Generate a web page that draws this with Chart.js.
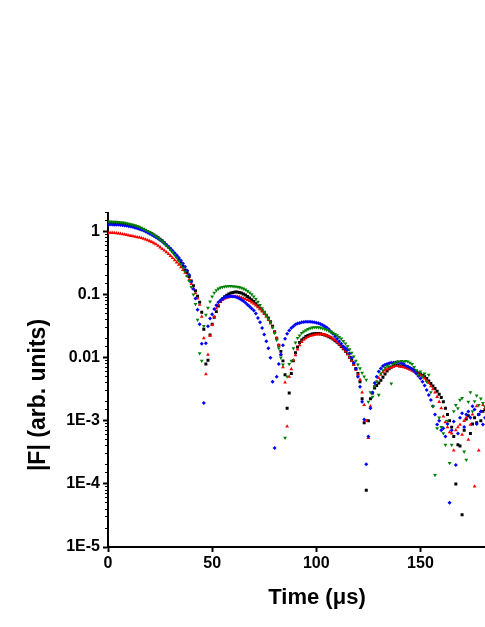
<!DOCTYPE html>
<html>
<head>
<meta charset="utf-8">
<script src="https://cdn.jsdelivr.net/npm/chart.js@4.4.1/dist/chart.umd.min.js"></script>
<style>
html,body{margin:0;padding:0;background:#fff;overflow:hidden}
#wrap{position:relative;width:485px;height:627px}
</style>
</head>
<body>
<div id="wrap"><canvas id="c"></canvas></div>
<script>
const timeUs = [
0,1,2,3,4,5,6,7,8,9,10,11,12,13,14,15,16,17,18,19,
20,21,22,23,24,25,26,27,28,29,30,31,32,33,34,35,36,37,38,39,
40,41,42,43,44,45,46,47,48,49,50,51,52,53,54,55,56,57,58,59,
60,61,62,63,64,65,66,67,68,69,70,71,72,73,74,75,76,77,78,79,
80,81,82,83,84,85,86,87,88,89,90,91,92,93,94,95,96,97,98,99,
100,101,102,103,104,105,106,107,108,109,110,111,112,113,114,115,116,117,118,119,
120,121,122,123,124,125,126,127,128,129,130,131,132,133,134,135,136,137,138,139,
140,141,142,143,144,145,146,147,148,149,150,151,152,153,154,155,156,157,158,159,
160,161,162,163,164,165,166,167,168,169,170,171,172,173,174,175,176,177,178,179,
180,181];

const black = [
1.35,1.35,1.346,1.343,1.337,1.33,1.321,1.309,1.297,1.282,
1.265,1.245,1.222,1.197,1.169,1.14,1.109,1.076,1.04,1.002,
0.964,0.925,0.883,0.841,0.798,0.755,0.711,0.664,0.61,0.569,
0.527,0.484,0.442,0.4,0.359,0.32,0.282,0.245,0.224,0.193,
0.164,0.138,0.115,0.0944,0.0759,0.0525,0.0282,0.00794,0.00912,0.0229,
0.0339,0.0437,0.0537,0.0661,0.0776,0.0861,0.0923,0.0977,0.102,0.106,
0.108,0.11,0.11,0.108,0.106,0.102,0.0989,0.0933,0.0881,0.0832,
0.0776,0.0716,0.0661,0.061,0.0562,0.0519,0.0473,0.0427,0.0372,0.0316,
0.0257,0.0204,0.0158,0.0126,0.00891,0.00537,0.00158,0.00275,0.00562,0.00891,
0.012,0.0148,0.0174,0.0191,0.0204,0.0216,0.0224,0.0232,0.0237,0.024,
0.0242,0.0241,0.0239,0.0234,0.0229,0.0223,0.0215,0.0207,0.0197,0.0186,
0.0175,0.0163,0.0151,0.0139,0.0127,0.0115,0.0102,0.00902,0.00785,0.00676,
0.00562,0.00417,0.00224,0.000933,0.0000794,0.001,0.00224,0.00275,0.00331,0.00363,
0.00398,0.00437,0.0049,0.0055,0.00617,0.00668,0.00708,0.00741,0.00759,0.00759,
0.00741,0.00733,0.00724,0.00708,0.00692,0.00676,0.00653,0.00631,0.00603,0.00575,
0.0055,0.00525,0.00501,0.00468,0.00427,0.00389,0.00355,0.00324,0.00295,0.00263,
0.00234,0.002,0.00158,0.00126,0.001,0.000794,0.000562,0.0001,0.000417,0.000398,
0.0000324,0.000708,0.00107,0.0012,0.000631,0.000891,0.00112,0.000933,0.00126,0.001,
0.00141,0.00151];

const red = [
0.955,0.955,0.953,0.948,0.942,0.933,0.923,0.91,0.898,0.883,
0.869,0.855,0.841,0.828,0.815,0.804,0.791,0.771,0.75,0.728,
0.705,0.681,0.656,0.631,0.596,0.562,0.531,0.501,0.471,0.442,
0.412,0.382,0.353,0.325,0.299,0.272,0.247,0.223,0.199,0.174,
0.148,0.124,0.105,0.0871,0.0692,0.0447,0.0204,0.0055,0.0112,0.0224,
0.0331,0.0447,0.0603,0.0692,0.0776,0.0822,0.0861,0.0891,0.0912,0.0927,
0.0933,0.0938,0.0933,0.0923,0.0902,0.0877,0.0851,0.0822,0.0791,0.0755,
0.0716,0.0676,0.0634,0.0589,0.0543,0.0495,0.0447,0.0398,0.0351,0.0302,
0.0251,0.0204,0.0158,0.0112,0.00708,0.00407,0.000813,0.00501,0.00661,0.00912,
0.011,0.0135,0.0158,0.0178,0.0193,0.0204,0.0214,0.0221,0.0226,0.023,
0.0233,0.0234,0.0234,0.0233,0.0229,0.0224,0.0218,0.021,0.02,0.019,
0.0178,0.0165,0.0152,0.014,0.0127,0.0114,0.0101,0.00891,0.00767,0.00646,
0.00537,0.00447,0.00282,0.00178,0.001,0.000537,0.0017,0.00275,0.00355,0.00417,
0.00479,0.00537,0.00589,0.00631,0.00661,0.00692,0.00708,0.00724,0.00741,0.00741,
0.00733,0.00724,0.00708,0.00692,0.00668,0.00646,0.00624,0.00603,0.00575,0.0055,
0.00525,0.00501,0.00468,0.00437,0.00398,0.00355,0.00316,0.00282,0.0024,0.002,
0.00158,0.00117,0.000955,0.000794,0.000661,0.000631,0.000339,0.000708,0.000794,0.000871,
0.000603,0.001,0.00112,0.000501,0.000871,0.00126,0.0000912,0.0017,0.000339,0.00141,
0.00178,0.00158];

const blue = [
1.288,1.288,1.285,1.282,1.279,1.274,1.268,1.259,1.247,1.233,
1.216,1.197,1.175,1.151,1.125,1.096,1.067,1.033,0.998,0.962,
0.925,0.887,0.849,0.811,0.773,0.733,0.692,0.652,0.612,0.573,
0.533,0.494,0.456,0.419,0.382,0.346,0.31,0.275,0.241,0.204,
0.162,0.123,0.0871,0.0575,0.0339,0.0166,0.00191,0.017,0.0316,0.0417,
0.049,0.0589,0.0676,0.0759,0.0813,0.0861,0.0902,0.0923,0.0933,0.094,
0.0933,0.0923,0.0902,0.0871,0.0832,0.0794,0.0741,0.0692,0.0646,0.0603,
0.0562,0.0501,0.0427,0.0363,0.0295,0.0234,0.0182,0.0141,0.01,0.00417,
0.000372,0.00501,0.00794,0.0112,0.0158,0.02,0.024,0.0269,0.0295,0.0316,
0.0335,0.0347,0.0355,0.0363,0.0367,0.037,0.0372,0.037,0.0367,0.0363,
0.0357,0.0351,0.0343,0.0331,0.0316,0.0302,0.0282,0.0257,0.024,0.0219,
0.02,0.0182,0.0166,0.0151,0.0141,0.0132,0.0117,0.01,0.00832,0.00661,
0.00501,0.00347,0.002,0.00105,0.000204,0.000562,0.00158,0.00282,0.00398,0.00501,
0.00603,0.00676,0.00741,0.00776,0.00794,0.00813,0.00832,0.00832,0.00841,0.00851,
0.00832,0.00813,0.00794,0.00741,0.00724,0.00692,0.00661,0.00617,0.00562,0.00513,
0.00468,0.00417,0.00363,0.00309,0.00257,0.00214,0.0017,0.00126,0.000871,0.001,
0.000708,0.000759,0.000562,0.000891,0.0000501,0.000708,0.000977,0.0002,0.000631,0.00112,
0.00132,0.000794,0.00126,0.00141,0.00112,0.0017,0.00151,0.000891,0.00126,0.00141,
0.000871,0.00112];

const green = [
1.429,1.429,1.426,1.422,1.416,1.406,1.396,1.384,1.368,1.349,
1.327,1.303,1.276,1.247,1.216,1.18,1.143,1.104,1.062,1.019,
0.975,0.929,0.883,0.838,0.791,0.745,0.698,0.652,0.605,0.56,
0.514,0.47,0.427,0.385,0.344,0.305,0.268,0.232,0.197,0.164,
0.132,0.1,0.0708,0.0398,0.0117,0.00891,0.0316,0.0479,0.0617,0.0776,
0.0933,0.107,0.117,0.124,0.129,0.132,0.134,0.135,0.136,0.136,
0.135,0.134,0.133,0.131,0.128,0.124,0.12,0.114,0.108,0.101,
0.0933,0.0851,0.0767,0.0684,0.0603,0.0531,0.0468,0.0417,0.0363,0.0302,
0.0245,0.0191,0.0141,0.01,0.00776,0.000537,0.00501,0.00794,0.00891,0.0141,
0.0174,0.0204,0.0224,0.0245,0.026,0.0272,0.0283,0.0292,0.0299,0.0302,
0.0303,0.0302,0.0299,0.0293,0.0285,0.0277,0.0268,0.0258,0.0248,0.0237,
0.0225,0.0213,0.02,0.0184,0.0168,0.0151,0.0135,0.0119,0.0104,0.00891,
0.00776,0.00676,0.00575,0.00501,0.00447,0.002,0.00282,0.0024,0.00355,0.00417,
0.00257,0.00562,0.00631,0.00692,0.00741,0.00724,0.00389,0.00794,0.00832,0.00861,
0.00871,0.00881,0.00871,0.00881,0.00871,0.00832,0.00794,0.00708,0.00631,0.00537,
0.00603,0.00501,0.00562,0.00417,0.00537,0.00282,0.0017,0.000138,0.000759,0.00112,
0.000794,0.000631,0.000417,0.001,0.000214,0.000417,0.00141,0.00178,0.00158,0.00214,
0.00229,0.000324,0.00024,0.002,0.00282,0.00141,0.00204,0.00251,0.00178,0.00224,
0.00191,0.00166];

const xTickValues = [0, 50, 100, 150];
const yTickValues = [1e-5, 1e-4, 1e-3, 0.01, 0.1, 1];
const yTickLabels = ['1E-5', '1E-4', '1E-3', '0.01', '0.1', '1'];
const xTitle = 'Time (\u03bcs)';
const yTitle = '|F| (arb. units)';

const FONT = "'Liberation Sans', Arial, Helvetica, sans-serif";
const toPoints = arr => arr.map((v, i) => ({x: timeUs[i], y: v}));

const axisTitles = {
  id: 'axisTitles',
  afterDraw(chart) {
    const ctx = chart.ctx;
    ctx.save();
    ctx.fillStyle = '#000';
    ctx.textAlign = 'center';
    ctx.textBaseline = 'middle';
    ctx.font = 'bold 22px ' + FONT;
    ctx.fillText(xTitle, 317, 597.5);
    ctx.translate(38.5, 395);
    ctx.rotate(-Math.PI / 2);
    ctx.font = 'bold 23px ' + FONT;
    ctx.fillText(yTitle, 0, 0);
    ctx.restore();
  }
};

const tickFont = {family: FONT, size: 16, weight: 'bold'};

new Chart(document.getElementById('c'), {
  type: 'scatter',
  data: {
    datasets: [
      {label: 'black', data: toPoints(black), pointStyle: 'rect', pointRadius: 2.1,
       pointBackgroundColor: '#000000', pointBorderWidth: 0, order: 3},
      {label: 'red', data: toPoints(red), pointStyle: 'triangle', pointRadius: 2.2,
       pointBackgroundColor: '#ff0000', pointBorderWidth: 0, order: 2},
      {label: 'blue', data: toPoints(blue), pointStyle: 'rectRot', pointRadius: 2.0,
       pointBackgroundColor: '#0000ff', pointBorderWidth: 0, order: 1},
      {label: 'green', data: toPoints(green), pointStyle: 'triangle', pointRotation: 180, pointRadius: 2.2,
       pointBackgroundColor: '#008000', pointBorderWidth: 0, order: 0}
    ]
  },
  options: {
    responsive: true,
    maintainAspectRatio: false,
    animation: false,
    devicePixelRatio: 1,
    layout: {padding: {top: 212.5, left: 0, right: 0, bottom: 0}, autoPadding: false},
    plugins: {legend: {display: false}, tooltip: {enabled: false}},
    scales: {
      x: {
        type: 'linear', min: 0, max: 181,
        afterBuildTicks: s => { s.ticks = xTickValues.map(v => ({value: v})); },
        afterFit: s => { s.height = 80; },
        grid: {drawOnChartArea: false, drawTicks: true, tickLength: 5, tickWidth: 2, tickColor: '#000'},
        border: {display: true, color: '#000', width: 2},
        ticks: {color: '#000', font: tickFont, padding: 2, maxRotation: 0, autoSkip: false}
      },
      y: {
        type: 'logarithmic', min: 1e-5, max: 2,
        afterBuildTicks: s => { s.ticks = yTickValues.map(v => ({value: v, major: true})); },
        afterFit: s => { s.width = 108; },
        grid: {drawOnChartArea: false, drawTicks: true, tickLength: 5, tickWidth: 2, tickColor: '#000'},
        border: {display: true, color: '#000', width: 2},
        ticks: {
          color: '#000', font: tickFont, padding: 3, autoSkip: false,
          callback: v => { const i = yTickValues.indexOf(v); return i >= 0 ? yTickLabels[i] : ''; }
        }
      },
      yMinor: {
        type: 'logarithmic', axis: 'y', position: {x: 0}, min: 1e-5, max: 2,
        grid: {drawOnChartArea: false, drawTicks: true, tickLength: 3, tickWidth: 1, tickColor: '#000'},
        border: {display: false},
        ticks: {display: false}
      }
    }
  },
  plugins: [axisTitles]
});
</script>
</body>
</html>
